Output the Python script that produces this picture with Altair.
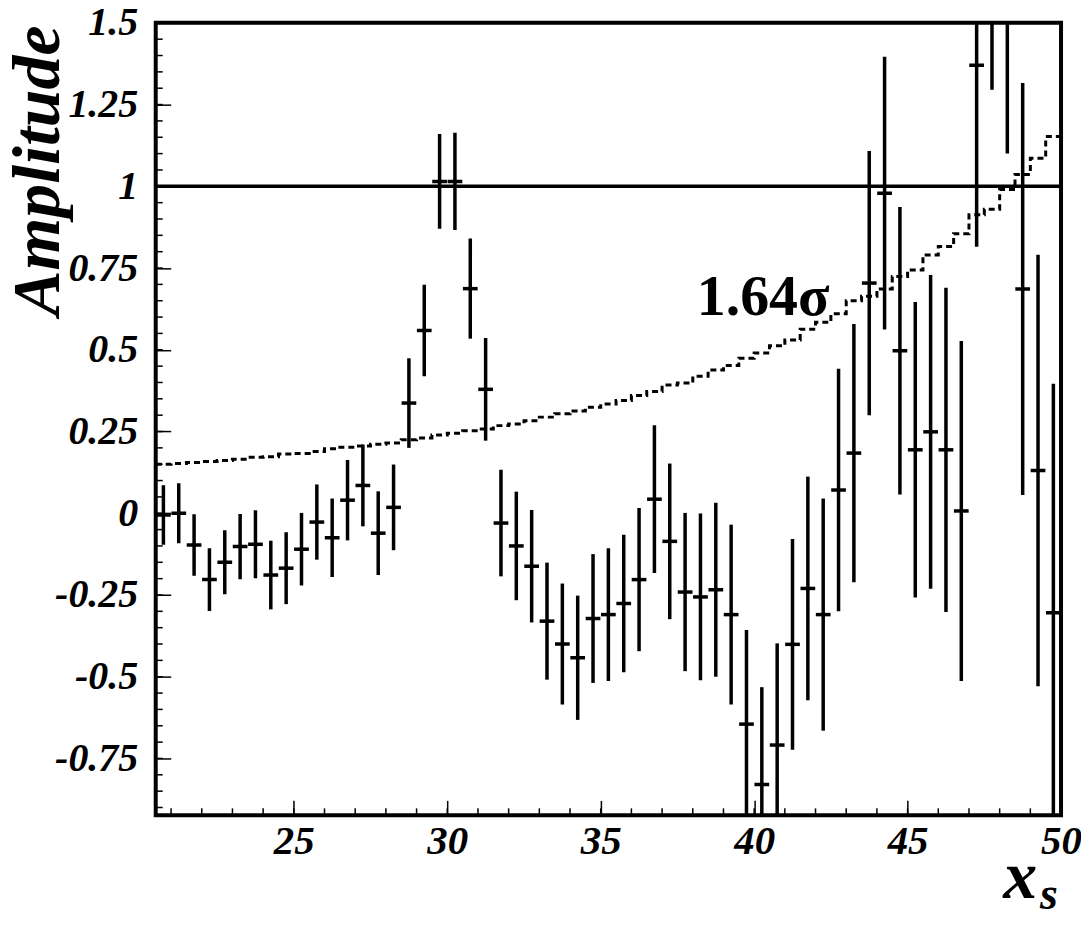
import altair as alt
import pandas as pd
import numpy as np

# ---- data ----
xs_s = [20.75, 21.25, 21.75, 22.25, 22.75, 23.25, 23.75, 24.25, 24.75, 25.25,
        25.75, 26.25, 26.75, 27.25, 27.75, 28.25, 28.75, 29.25, 29.75, 30.25,
        30.75, 31.25, 31.75, 32.25, 32.75, 33.25, 33.75, 34.25, 34.75, 35.25,
        35.75, 36.25, 36.75, 37.25, 37.75, 38.25, 38.75, 39.25, 39.75, 40.25,
        40.75, 41.25, 41.75, 42.25, 42.75, 43.25, 43.75, 44.25, 44.75, 45.25,
        45.75, 46.25, 46.75, 47.25, 47.75, 48.25, 48.75, 49.25, 49.75]

amplitude = [-0.005, 0.000, -0.097, -0.203, -0.150, -0.102, -0.095, -0.189, -0.168, -0.110,
             -0.027, -0.075, 0.040, 0.085, -0.061, 0.018, 0.337, 0.559, 1.015, 1.015,
             0.687, 0.379, -0.030, -0.100, -0.162, -0.330, -0.400, -0.442, -0.322, -0.310,
             -0.276, -0.203, 0.043, -0.086, -0.241, -0.256, -0.234, -0.310, -0.645, -0.830,
             -0.709, -0.401, -0.230, -0.310, 0.071, 0.184, 0.704, 0.979, 0.497, 0.194,
             0.249, 0.194, 0.007, 1.370, 1.860, 1.690, 0.686, 0.131, -0.304]

errors = [0.091, 0.092, 0.094, 0.096, 0.098, 0.100, 0.104, 0.105, 0.110, 0.111,
          0.115, 0.120, 0.123, 0.125, 0.128, 0.131, 0.137, 0.140, 0.145, 0.149,
          0.153, 0.157, 0.163, 0.166, 0.172, 0.179, 0.185, 0.190, 0.197, 0.203,
          0.210, 0.219, 0.226, 0.238, 0.242, 0.255, 0.266, 0.275, 0.288, 0.298,
          0.311, 0.322, 0.342, 0.355, 0.371, 0.395, 0.404, 0.417, 0.440, 0.452,
          0.480, 0.496, 0.520, 0.555, 0.565, 0.590, 0.630, 0.660, 0.700]

sigma164 = [0.150, 0.152, 0.155, 0.158, 0.161, 0.165, 0.171, 0.173, 0.181, 0.183,
            0.189, 0.197, 0.202, 0.206, 0.211, 0.215, 0.225, 0.230, 0.239, 0.245,
            0.252, 0.258, 0.268, 0.273, 0.283, 0.294, 0.304, 0.313, 0.324, 0.334,
            0.345, 0.360, 0.372, 0.392, 0.398, 0.419, 0.438, 0.452, 0.474, 0.490,
            0.512, 0.530, 0.563, 0.584, 0.610, 0.650, 0.664, 0.686, 0.724, 0.744,
            0.790, 0.816, 0.855, 0.913, 0.930, 0.990, 1.036, 1.086, 1.152]

x_major = [25, 30, 35, 40, 45, 50]
y_major = [-0.75, -0.5, -0.25, 0, 0.25, 0.5, 0.75, 1, 1.25, 1.5]
x_minor = list(range(21, 50))
y_minor = [round(v, 2) for v in np.arange(-0.90, 1.5001, 0.05)]

X_DOMAIN = [20.5, 50]
Y_DOMAIN = [-0.924, 1.5]
W, H = 907, 794
FONT = "Liberation Serif"

df = pd.DataFrame({"x": xs_s, "amp": amplitude, "err": errors})
df["lo"] = df["amp"] - df["err"]
df["hi"] = df["amp"] + df["err"]
df["xl"] = df["x"] - 0.24
df["xr"] = df["x"] + 0.24

edges = [v - 0.25 for v in xs_s] + [50.0]
sdf = pd.DataFrame({"edge": edges, "sig": sigma164 + [sigma164[-1]]})

xscale = alt.Scale(domain=X_DOMAIN, nice=False, zero=False)
yscale = alt.Scale(domain=Y_DOMAIN, nice=False, zero=False)

xaxis = alt.Axis(values=x_major, tickSize=15, offset=-15, domain=False, grid=False,
                 tickColor="black", tickWidth=1.5, labelFont=FONT, labelFontSize=41,
                 labelFontStyle="italic", labelFontWeight="bold", labelColor="black",
                 labelPadding=6, labelFlush=False, labelOverlap=False, title=None,
                 labelBound=False)
yaxis = alt.Axis(values=y_major, tickSize=15, offset=-15, domain=False, grid=False,
                 tickColor="black", tickWidth=1.5, labelFont=FONT, labelFontSize=40,
                 labelFontStyle="italic", labelFontWeight="bold", labelColor="black",
                 labelPadding=18, labelFlush=False, labelOverlap=False, title=None,
                 labelExpr="'' + datum.value", labelBound=False)


def X(field):
    return alt.X(field, scale=xscale, axis=xaxis)


def Y(field):
    return alt.Y(field, scale=yscale, axis=yaxis)


vbars = alt.Chart(df).mark_rule(color="black", strokeWidth=3.5, clip=True).encode(
    x=X("x:Q"), y=Y("lo:Q"), y2="hi:Q",
)
hbars = alt.Chart(df).mark_rule(color="black", strokeWidth=3.5, clip=True).encode(
    x=X("xl:Q"), x2="xr:Q", y=Y("amp:Q"),
)
one_line = alt.Chart(pd.DataFrame({"y": [1.0]})).mark_rule(color="black", strokeWidth=3.5).encode(
    y=Y("y:Q")
)
sig_line = alt.Chart(sdf).mark_line(color="black", strokeWidth=3, strokeDash=[6, 4],
                                    interpolate="step-after", clip=True).encode(
    x=X("edge:Q"), y=Y("sig:Q"),
)
sig_label = alt.Chart(pd.DataFrame({"x": [38.13], "y": [0.605], "t": ["1.64σ"]})).mark_text(
    font=FONT, fontSize=58, fontWeight="bold", align="left", baseline="alphabetic", color="black"
).encode(x=X("x:Q"), y=Y("y:Q"), text="t:N")
minor_x = alt.Chart(pd.DataFrame({"t": x_minor})).mark_rule(color="black", strokeWidth=1.5).encode(
    x=X("t:Q"), y=alt.value(H - 7), y2=alt.value(H),
)
minor_y = alt.Chart(pd.DataFrame({"t": y_minor})).mark_rule(color="black", strokeWidth=1.5).encode(
    y=Y("t:Q"), x=alt.value(0), x2=alt.value(7),
)
ytitle = alt.Chart(pd.DataFrame({"t": ["Amplitude"]})).mark_text(
    font=FONT, fontSize=68, fontStyle="italic", fontWeight="bold", angle=270,
    align="center", baseline="alphabetic", color="black"
).encode(x=alt.value(-97), y=alt.value(148), text="t:N")
xtitle = alt.Chart(pd.DataFrame({"t": ["x"]})).mark_text(
    font=FONT, fontSize=68, fontStyle="italic", fontWeight="bold",
    align="left", baseline="alphabetic", color="black"
).encode(x=alt.value(849), y=alt.value(877), text="t:N")
xsub = alt.Chart(pd.DataFrame({"t": ["s"]})).mark_text(
    font=FONT, fontSize=46, fontStyle="italic", fontWeight="bold",
    align="left", baseline="alphabetic", color="black"
).encode(x=alt.value(886), y=alt.value(888), text="t:N")

chart = alt.layer(
    vbars, hbars, one_line, sig_line, sig_label, minor_x, minor_y, ytitle, xtitle, xsub
).properties(
    width=W, height=H, autosize="none",
    padding={"left": 148, "top": 14, "right": 20, "bottom": 105},
    background="white",
).configure_view(stroke="black", strokeWidth=4)

chart.save("out.html", embed_options={"renderer": "svg", "actions": False})
